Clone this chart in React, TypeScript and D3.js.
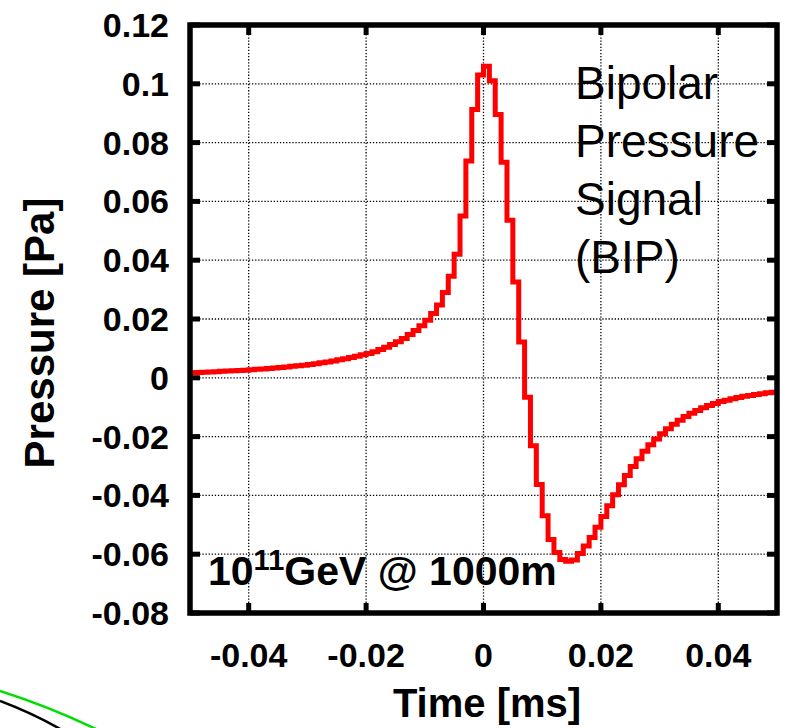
import React from "react";
import * as d3 from "d3";

// ---- data ----
const binStart = -0.05; // ms
const binWidth = 0.001; // ms (1 MHz sampling)
const pressureValues = [
  // -0.050 .. -0.001
  0.0017, 0.0018, 0.0019, 0.002, 0.0021, 0.0022, 0.0023, 0.0024, 0.0025, 0.0026,
  0.0027, 0.0029, 0.003, 0.0032, 0.0033, 0.0035, 0.0037, 0.0039, 0.0041, 0.0043,
  0.0045, 0.0048, 0.0051, 0.0054, 0.0057, 0.0061, 0.0065, 0.0069, 0.0073, 0.0078,
  0.0083, 0.0089, 0.0096, 0.0104, 0.0113, 0.0123, 0.0134, 0.0147, 0.0161, 0.0177,
  0.0196, 0.0219, 0.0248, 0.029, 0.0345, 0.042, 0.055, 0.0737, 0.0913, 0.103,
  // 0.000 .. 0.049
  0.106, 0.101, 0.0896, 0.0733, 0.0536, 0.0326, 0.0122, -0.0066, -0.0231, -0.0363,
  -0.0469, -0.055, -0.0594, -0.0618, -0.0624, -0.062, -0.0598, -0.0572, -0.0543, -0.0508,
  -0.0472, -0.0435, -0.0398, -0.0364, -0.0332, -0.0302, -0.0275, -0.025, -0.0228, -0.0208,
  -0.019, -0.0173, -0.0158, -0.0144, -0.0132, -0.0121, -0.0111, -0.0102, -0.0094, -0.0087,
  -0.0081, -0.0076, -0.0071, -0.0067, -0.0063, -0.006, -0.0057, -0.0054, -0.0051, -0.0049,
];
const xTicks = [-0.04, -0.02, 0, 0.02, 0.04];
const xTickLabels = ["-0.04", "-0.02", "0", "0.02", "0.04"];
const yTicks = [-0.08, -0.06, -0.04, -0.02, 0, 0.02, 0.04, 0.06, 0.08, 0.1, 0.12];
const yTickLabels = ["-0.08", "-0.06", "-0.04", "-0.02", "0", "0.02", "0.04", "0.06", "0.08", "0.1", "0.12"];
const xDomain = [-0.05, 0.05];
const yDomain = [-0.08, 0.12];
const labelLines = ["Bipolar", "Pressure", "Signal", "(BIP)"];

const W = 788;
const H = 728;
const L = 190, R = 777, T = 25, B = 613;

export default function App() {
  const x = d3.scaleLinear().domain(xDomain).range([L, R]);
  const y = d3.scaleLinear().domain(yDomain).range([B, T]);

  const pts: [number, number][] = pressureValues.map((v, i) => [binStart + i * binWidth, v]);
  pts.push([binStart + pressureValues.length * binWidth, pressureValues[pressureValues.length - 1]]);
  const line = d3
    .line<[number, number]>()
    .x((d) => x(d[0]))
    .y((d) => y(d[1]))
    .curve(d3.curveStepAfter);

  const font = "'Liberation Sans', Arial, Helvetica, sans-serif";

  return (
    <svg
      width={W}
      height={H}
      style={{ position: "absolute", left: 0, top: 0, background: "#fff" }}
      fontFamily={font}
    >
      <defs>
        <clipPath id="plot">
          <rect x={L} y={T} width={R - L} height={B - T} />
        </clipPath>
      </defs>
      <rect x={0} y={0} width={W} height={H} fill="#fff" />
      {/* grid */}
      {xTicks.map((t, i) => (
        <line key={"gx" + i} x1={x(t)} x2={x(t)} y1={T} y2={B} stroke="#000" strokeWidth={1.3} strokeDasharray="1.3,1.8" />
      ))}
      {yTicks.slice(1, -1).map((t, i) => (
        <line key={"gy" + i} x1={L} x2={R} y1={y(t)} y2={y(t)} stroke="#000" strokeWidth={1.3} strokeDasharray="1.3,1.8" />
      ))}
      {/* signal */}
      <path
        d={line(pts) || ""}
        fill="none"
        stroke="#ff0000"
        strokeWidth={5}
        strokeLinejoin="miter"
        clipPath="url(#plot)"
      />
      {/* ticks */}
      {xTicks.map((t, i) => (
        <g key={"tx" + i}>
          <line x1={x(t)} x2={x(t)} y1={T} y2={T + 10} stroke="#000" strokeWidth={5} />
          <line x1={x(t)} x2={x(t)} y1={B} y2={B - 10} stroke="#000" strokeWidth={5} />
        </g>
      ))}
      {yTicks.map((t, i) => (
        <g key={"ty" + i}>
          <line x1={L} x2={L + 10} y1={y(t)} y2={y(t)} stroke="#000" strokeWidth={5} />
          <line x1={R} x2={R - 10} y1={y(t)} y2={y(t)} stroke="#000" strokeWidth={5} />
        </g>
      ))}
      {/* frame */}
      <rect x={L} y={T} width={R - L} height={B - T} fill="none" stroke="#000" strokeWidth={5.5} />
      {/* tick labels */}
      {yTicks.map((t, i) => (
        <text key={"ly" + i} x={169} y={y(t) + 12} textAnchor="end" fontSize={34} fontWeight="bold">
          {yTickLabels[i]}
        </text>
      ))}
      {xTicks.map((t, i) => (
        <text key={"lx" + i} x={x(t)} y={667} textAnchor="middle" fontSize={34} fontWeight="bold">
          {xTickLabels[i]}
        </text>
      ))}
      {/* axis titles */}
      <text x={487} y={717} textAnchor="middle" fontSize={40} fontWeight="bold">
        Time [ms]
      </text>
      <text
        transform={`translate(54,333) rotate(-90)`}
        textAnchor="middle"
        fontSize={42}
        fontWeight="bold"
      >
        Pressure [Pa]
      </text>
      {/* annotations */}
      {labelLines.map((s, i) => (
        <text key={"bl" + i} x={575} y={99 + i * 58} fontSize={46}>
          {s}
        </text>
      ))}
      <text x={208} y={585} fontSize={41} fontWeight="bold">
        10<tspan fontSize={29} dy={-15}>11</tspan>
        <tspan dy={15}>GeV @ 1000m</tspan>
      </text>
      {/* fragments of an adjacent figure */}
      <path d="M0,691 Q50,707 98,730" fill="none" stroke="#00dd00" strokeWidth={2.5} />
      <path d="M0,701 Q32,713 62,730" fill="none" stroke="#000" strokeWidth={2.5} />
    </svg>
  );
}
